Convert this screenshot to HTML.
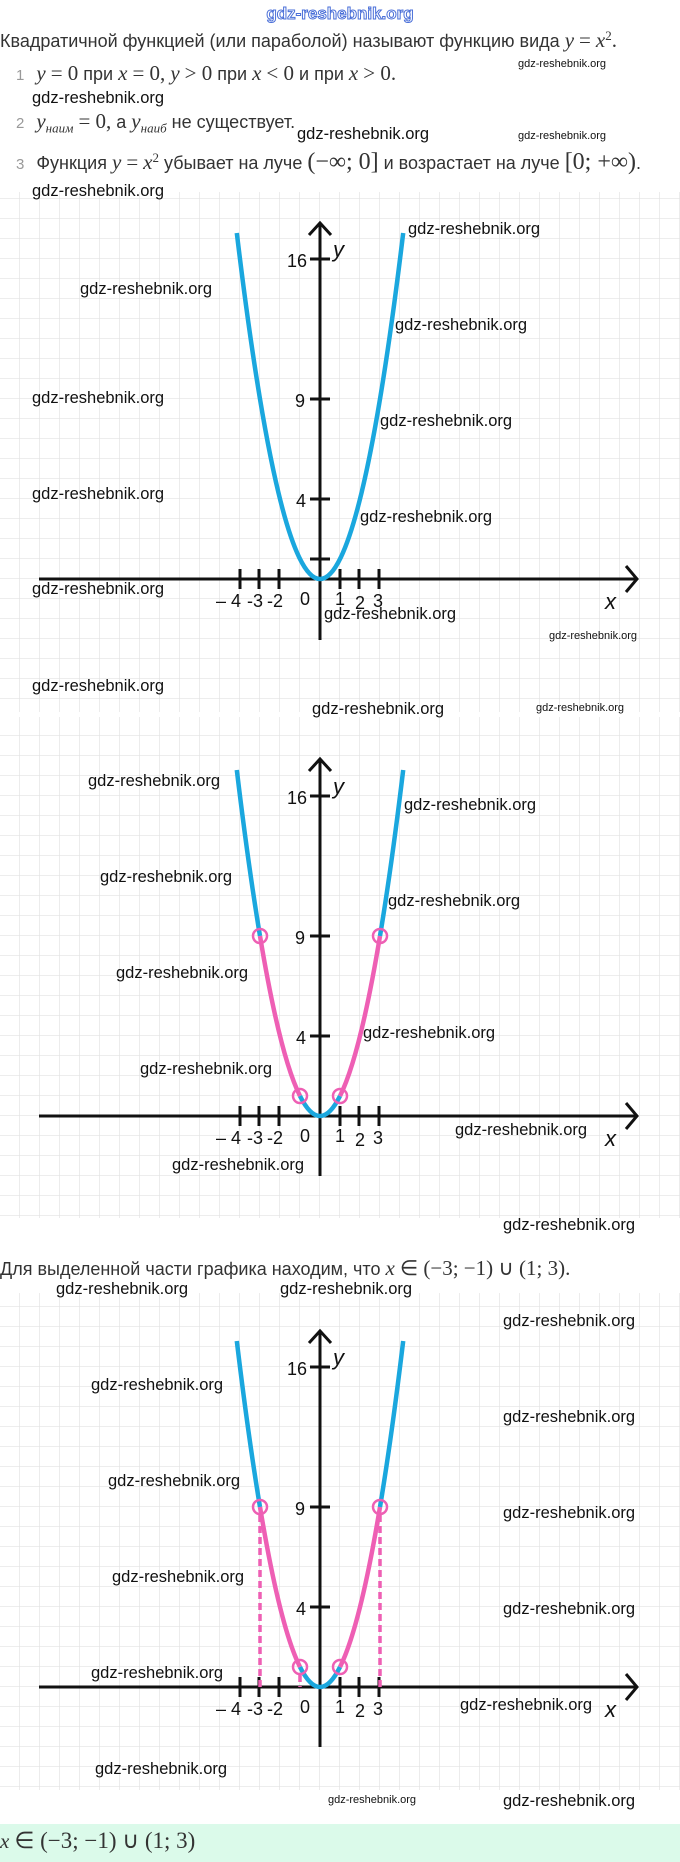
<!DOCTYPE html>
<html><head><meta charset="utf-8"><style>
html,body{margin:0;padding:0;background:#fff;}
body{width:680px;height:1862px;position:relative;overflow:hidden;font-family:"Liberation Sans",sans-serif;}
svg{position:absolute;left:0;top:0;}
.t{position:absolute;white-space:nowrap;color:#333;font-size:18px;}
.m{font-family:"Liberation Serif",serif;font-style:italic;font-size:21px;}
.r{font-family:"Liberation Serif",serif;font-size:21px;}
.n{color:#999;font-size:15px;margin-right:12px;}
</style></head><body>
<svg width="680" height="1862" viewBox="0 0 680 1862" xmlns="http://www.w3.org/2000/svg">
<defs>
<pattern id="g1" x="0" y="19" width="20" height="20" patternUnits="userSpaceOnUse"><path d="M20 0V20M0 20H20" stroke="#e2e2e2" stroke-width="1.3" fill="none"/></pattern>
<pattern id="g2" x="0" y="16" width="20" height="20" patternUnits="userSpaceOnUse"><path d="M20 0V20M0 20H20" stroke="#e2e2e2" stroke-width="1.3" fill="none"/></pattern>
<pattern id="g3" x="0" y="7" width="20" height="20" patternUnits="userSpaceOnUse"><path d="M20 0V20M0 20H20" stroke="#e2e2e2" stroke-width="1.3" fill="none"/></pattern>
</defs>
<rect x="0" y="192" width="680" height="520" fill="url(#g1)"/>
<rect x="0" y="717" width="680" height="501" fill="url(#g2)"/>
<rect x="0" y="1293" width="680" height="497" fill="url(#g3)"/>
<rect x="0" y="1824" width="680" height="38" fill="#dbfaea"/>

<!-- Graph 1 -->
<g transform="translate(0,579)">
<g stroke="#111" stroke-width="3" fill="none">
<path d="M39 0H637M626 -13L637 0L626 13"/>
<path d="M320 61V-356M309 -344L320 -356L331 -344"/>
<path d="M240 -10V10M259 -10V10M279 -10V10M340 -10V10M359 -10V10M379 -10V10"/>
<path d="M310 -320H330M310 -180H330M310 -80H330M310 -20H330"/>
</g>
<path d="M236.8 -346 Q320 346 403.2 -346" stroke="#1aa7de" stroke-width="4.5" fill="none"/>
<g font-family="Liberation Sans,sans-serif" font-size="18" fill="#111">
<text x="287" y="-312">16</text><text x="295" y="-172">9</text><text x="296" y="-72">4</text>
<text x="333" y="-322" font-style="italic" font-size="22">y</text>
<text x="605" y="30" font-style="italic" font-size="22">x</text>
<text x="216" y="28">– 4</text><text x="247" y="28">-3</text><text x="267" y="28">-2</text><text x="300" y="26">0</text><text x="335" y="26">1</text><text x="355" y="30">2</text><text x="373" y="28">3</text>
</g>
</g>

<!-- Graph 2 -->
<g transform="translate(0,1116)">
<g stroke="#111" stroke-width="3" fill="none">
<path d="M39 0H637M626 -13L637 0L626 13"/>
<path d="M320 60V-357M309 -345L320 -357L331 -345"/>
<path d="M240 -10V10M259 -10V10M279 -10V10M340 -10V10M359 -10V10M379 -10V10"/>
<path d="M310 -320H330M310 -180H330M310 -80H330"/>
</g>
<g fill="none" stroke-width="4.5">
<path d="M236.8 -346 Q248.4 -249.6 260 -180" stroke="#1aa7de"/>
<path d="M260 -180 Q280 -60 300 -20" stroke="#ee5fb4"/>
<path d="M300 -20 Q320 20 340 -20" stroke="#1aa7de"/>
<path d="M340 -20 Q360 -60 380 -180" stroke="#ee5fb4"/>
<path d="M380 -180 Q391.6 -249.6 403.2 -346" stroke="#1aa7de"/>
</g>
<g fill="none" stroke="#ee5fb4" stroke-width="2.5"><circle cx="260" cy="-180" r="7"/><circle cx="380" cy="-180" r="7"/><circle cx="300" cy="-20" r="7"/><circle cx="340" cy="-20" r="7"/></g>
<g font-family="Liberation Sans,sans-serif" font-size="18" fill="#111">
<text x="287" y="-312">16</text><text x="295" y="-172">9</text><text x="296" y="-72">4</text>
<text x="333" y="-322" font-style="italic" font-size="22">y</text>
<text x="605" y="30" font-style="italic" font-size="22">x</text>
<text x="216" y="28">– 4</text><text x="247" y="28">-3</text><text x="267" y="28">-2</text><text x="300" y="26">0</text><text x="335" y="26">1</text><text x="355" y="30">2</text><text x="373" y="28">3</text>
</g>
</g>

<!-- Graph 3 -->
<g transform="translate(0,1687)">
<g stroke="#111" stroke-width="3" fill="none">
<path d="M39 0H637M626 -13L637 0L626 13"/>
<path d="M320 60V-356M309 -344L320 -356L331 -344"/>
<path d="M240 -10V10M259 -10V10M279 -10V10M340 -10V10M359 -10V10M379 -10V10"/>
<path d="M310 -320H330M310 -180H330M310 -80H330"/>
</g>
<g stroke="#ee5fb4" stroke-width="3.5" stroke-dasharray="7 4" fill="none"><path d="M260 -172V0M380 -172V0M300 -12V0"/></g>
<g fill="none" stroke-width="4.5">
<path d="M236.8 -346 Q248.4 -249.6 260 -180" stroke="#1aa7de"/>
<path d="M260 -180 Q280 -60 300 -20" stroke="#ee5fb4"/>
<path d="M300 -20 Q320 20 340 -20" stroke="#1aa7de"/>
<path d="M340 -20 Q360 -60 380 -180" stroke="#ee5fb4"/>
<path d="M380 -180 Q391.6 -249.6 403.2 -346" stroke="#1aa7de"/>
</g>
<g fill="none" stroke="#ee5fb4" stroke-width="2.5"><circle cx="260" cy="-180" r="7"/><circle cx="380" cy="-180" r="7"/><circle cx="300" cy="-20" r="7"/><circle cx="340" cy="-20" r="7"/></g>
<g font-family="Liberation Sans,sans-serif" font-size="18" fill="#111">
<text x="287" y="-312">16</text><text x="295" y="-172">9</text><text x="296" y="-72">4</text>
<text x="333" y="-322" font-style="italic" font-size="22">y</text>
<text x="605" y="30" font-style="italic" font-size="22">x</text>
<text x="216" y="28">– 4</text><text x="247" y="28">-3</text><text x="267" y="28">-2</text><text x="300" y="26">0</text><text x="335" y="26">1</text><text x="355" y="30">2</text><text x="373" y="28">3</text>
</g>
</g>

<!-- watermarks -->
<text x="340" y="19" text-anchor="middle" font-family="Liberation Sans,sans-serif" font-size="17" font-weight="bold" fill="#fff" stroke="#4a6fd8" stroke-width="1">gdz-reshebnik.org</text>
<g font-family="Liberation Sans,sans-serif" font-size="16.5" fill="#111">
<text x="32" y="103">gdz-reshebnik.org</text>
<text x="297" y="139">gdz-reshebnik.org</text>
<text x="32" y="196">gdz-reshebnik.org</text>
<text x="408" y="234">gdz-reshebnik.org</text>
<text x="80" y="294">gdz-reshebnik.org</text>
<text x="395" y="330">gdz-reshebnik.org</text>
<text x="32" y="403">gdz-reshebnik.org</text>
<text x="380" y="426">gdz-reshebnik.org</text>
<text x="32" y="499">gdz-reshebnik.org</text>
<text x="360" y="522">gdz-reshebnik.org</text>
<text x="32" y="594">gdz-reshebnik.org</text>
<text x="324" y="619">gdz-reshebnik.org</text>
<text x="32" y="691">gdz-reshebnik.org</text>
<text x="312" y="714">gdz-reshebnik.org</text>
<text x="88" y="786">gdz-reshebnik.org</text>
<text x="404" y="810">gdz-reshebnik.org</text>
<text x="100" y="882">gdz-reshebnik.org</text>
<text x="388" y="906">gdz-reshebnik.org</text>
<text x="116" y="978">gdz-reshebnik.org</text>
<text x="363" y="1038">gdz-reshebnik.org</text>
<text x="140" y="1074">gdz-reshebnik.org</text>
<text x="455" y="1135">gdz-reshebnik.org</text>
<text x="172" y="1170">gdz-reshebnik.org</text>
<text x="503" y="1230">gdz-reshebnik.org</text>
<text x="56" y="1294">gdz-reshebnik.org</text>
<text x="280" y="1294">gdz-reshebnik.org</text>
<text x="503" y="1326">gdz-reshebnik.org</text>
<text x="91" y="1390">gdz-reshebnik.org</text>
<text x="503" y="1422">gdz-reshebnik.org</text>
<text x="108" y="1486">gdz-reshebnik.org</text>
<text x="503" y="1518">gdz-reshebnik.org</text>
<text x="112" y="1582">gdz-reshebnik.org</text>
<text x="503" y="1614">gdz-reshebnik.org</text>
<text x="91" y="1678">gdz-reshebnik.org</text>
<text x="460" y="1710">gdz-reshebnik.org</text>
<text x="95" y="1774">gdz-reshebnik.org</text>
<text x="503" y="1806">gdz-reshebnik.org</text>
</g>
<g font-family="Liberation Sans,sans-serif" font-size="11" fill="#111">
<text x="518" y="67">gdz-reshebnik.org</text>
<text x="518" y="139">gdz-reshebnik.org</text>
<text x="549" y="639">gdz-reshebnik.org</text>
<text x="536" y="711">gdz-reshebnik.org</text>
<text x="328" y="1803">gdz-reshebnik.org</text>
</g>
</svg>

<div class="t" style="left:0;top:28px;">Квадратичной функцией (или параболой) называют функцию вида <span class="m">y</span> <span class="r">=</span> <span class="m">x</span><sup class="r" style="font-size:13px">2</sup><span class="r">.</span></div>
<div class="t" style="left:16px;top:61px;"><span class="n">1</span><span class="m">y</span> <span class="r">= 0</span> при <span class="m">x</span> <span class="r">= 0,</span> <span class="m">y</span> <span class="r">&gt; 0</span> при <span class="m">x</span> <span class="r">&lt; 0</span> и при <span class="m">x</span> <span class="r">&gt; 0.</span></div>
<div class="t" style="left:16px;top:109px;"><span class="n">2</span><span class="m">y</span><sub class="m" style="font-size:13px">наим</sub> <span class="r">= 0,</span> а <span class="m">y</span><sub class="m" style="font-size:13px">наиб</sub> не существует.</div>
<div class="t" style="left:16px;top:149px;"><span class="n">3</span>Функция <span class="m">y</span> <span class="r">=</span> <span class="m">x</span><sup class="r" style="font-size:13px">2</sup> убывает на луче <span class="r" style="font-size:24px">(−∞; 0]</span> и возрастает на луче <span class="r" style="font-size:24px">[0; +∞)</span>.</div>
<div class="t" style="left:0;top:1256px;">Для выделенной части графика находим, что <span class="m">x</span> <span class="r">∈ (−3; −1) ∪ (1; 3).</span></div>
<div class="t" style="left:0;top:1828px;"><span class="m">x</span> <span class="r" style="font-size:23px">∈ (−3; −1) ∪ (1; 3)</span></div>
</body></html>
